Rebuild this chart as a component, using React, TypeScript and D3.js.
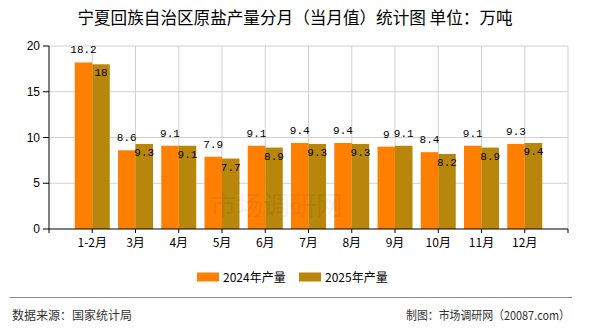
import React from "react";
import * as d3 from "d3";

const months = ["1-2月", "3月", "4月", "5月", "6月", "7月", "8月", "9月", "10月", "11月", "12月"];
const output2024 = [18.2, 8.6, 9.1, 7.9, 9.1, 9.4, 9.4, 9, 8.4, 9.1, 9.3];
const output2025 = [18, 9.3, 9.1, 7.7, 8.9, 9.3, 9.3, 9.1, 8.2, 8.9, 9.4];
const yTicks = [0, 5, 10, 15, 20];
const seriesNames = ["2024年产量", "2025年产量"];

const W = 590;
const H = 330;
const plot = { left: 49, right: 568, top: 46, bottom: 229 };
const colors = ["#ff8000", "#b8860b"];
const barW = 17.5;
const cjk = "'Noto Sans CJK SC', 'Liberation Sans', sans-serif";
const mono = "'Liberation Mono', 'DejaVu Sans Mono', monospace";
const labelSize = 11;
const charW = labelSize * 0.6;
const labelH = 10;

export default function App() {
  // slots 0..12, months sit on slots 1..11
  const x = d3.scaleLinear().domain([0, months.length + 1]).range([plot.left, plot.right]);
  const y = d3.scaleLinear().domain([0, 20]).range([plot.bottom, plot.top]);
  const slots = d3.range(0, months.length + 2);

  // 2025 label goes above its bar unless it would run into the 2024 label,
  // in which case it drops inside the top of the bar
  const secondAbove = months.map((_, i) => {
    const a = String(output2024[i]);
    const b = String(output2025[i]);
    const gapX = barW - (a.length * charW) / 2 - (b.length * charW) / 2;
    const gapY = Math.abs(y(output2024[i]) - y(output2025[i])) - labelH;
    return gapX > 0 || gapY > 0;
  });

  return (
    <svg width={W} height={H} style={{ position: "absolute", left: 0, top: 0, background: "#fff" }}>
      <text x={W / 2} y={24} textAnchor="middle" fontSize={16.6} fontFamily={cjk} fill="#000">
        宁夏回族自治区原盐产量分月（当月值）统计图 单位：万吨
      </text>

      {/* grid */}
      {yTicks.filter((t) => t > 0).map((t) => (
        <line key={"h" + t} x1={plot.left} x2={plot.right} y1={y(t)} y2={y(t)} stroke="#d0d0d0" />
      ))}
      {slots.slice(1).map((s) => (
        <line key={"v" + s} x1={x(s)} x2={x(s)} y1={plot.top} y2={plot.bottom} stroke="#d0d0d0" />
      ))}

      {/* bars */}
      {months.map((m, i) => {
        const cx = x(i + 1);
        const v1 = output2024[i];
        const v2 = output2025[i];
        return (
          <g key={m}>
            <rect x={cx - barW} y={y(v1)} width={barW} height={plot.bottom - y(v1)} fill={colors[0]} />
            <rect x={cx} y={y(v2)} width={barW} height={plot.bottom - y(v2)} fill={colors[1]} />
            <text x={cx - barW / 2} y={y(v1) - 9} textAnchor="middle" fontSize={labelSize} fontFamily={mono} fill="#000">
              {v1}
            </text>
            <text
              x={cx + barW / 2}
              y={secondAbove[i] ? y(v2) - 9 : y(v2) + 12}
              textAnchor="middle"
              fontSize={labelSize}
              fontFamily={mono}
              fill="#000"
            >
              {v2}
            </text>
          </g>
        );
      })}

      {/* watermark */}
      <text x={210} y={215} fontSize={26.5} fontFamily={cjk} fill="#000" opacity={0.05}>
        市场调研网
      </text>

      {/* y axis */}
      <line x1={plot.left} x2={plot.left} y1={plot.top} y2={plot.bottom} stroke="#000" />
      {yTicks.map((t) => (
        <g key={"y" + t}>
          <line x1={plot.left - 6} x2={plot.left} y1={y(t)} y2={y(t)} stroke="#000" />
          <text x={plot.left - 9} y={y(t) + 4} textAnchor="end" fontSize={12} fontFamily="'Liberation Sans', sans-serif" fill="#000">
            {t}
          </text>
        </g>
      ))}

      {/* x axis */}
      <line x1={plot.left} x2={plot.right} y1={plot.bottom} y2={plot.bottom} stroke="#000" />
      {slots.map((s) => (
        <line key={"xt" + s} x1={x(s)} x2={x(s)} y1={plot.bottom} y2={plot.bottom + 4} stroke="#000" />
      ))}
      {months.map((m, i) => (
        <text key={"xl" + m} x={x(i + 1)} y={247} textAnchor="middle" fontSize={12} fontFamily={cjk} fill="#000">
          {m}
        </text>
      ))}

      {/* legend */}
      {seriesNames.map((n, i) => (
        <g key={n} transform={`translate(${197 + i * 102},0)`}>
          <rect x={0} y={272.5} width={22} height={9} fill={colors[i]} />
          <text x={26} y={282} fontSize={12} fontFamily={cjk} fill="#000">
            {n}
          </text>
        </g>
      ))}

      {/* footer */}
      <line x1={10} x2={572} y1={297.5} y2={297.5} stroke="#888" />
      <text x={12} y={320} fontSize={12} fontFamily={cjk} fill="#333">
        数据来源：国家统计局
      </text>
      <text x={406} y={320} textLength={164} lengthAdjust="spacingAndGlyphs" fontSize={12} fontFamily={cjk} fill="#333">
        制图：市场调研网（20087.com）
      </text>
    </svg>
  );
}
